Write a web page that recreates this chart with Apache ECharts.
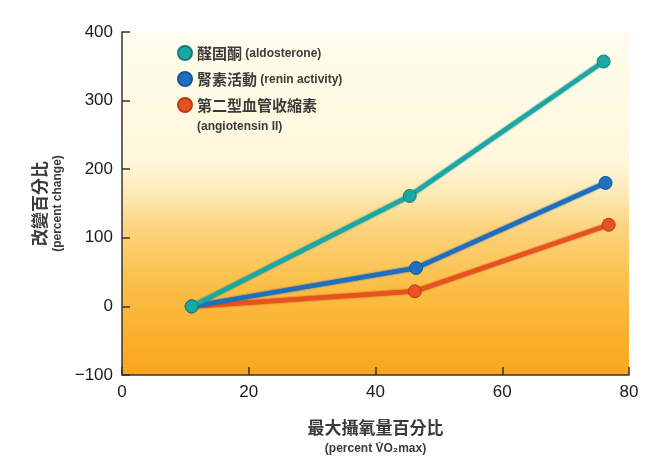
<!DOCTYPE html>
<html><head><meta charset="utf-8">
<script src="https://cdn.jsdelivr.net/npm/echarts@6/dist/echarts.min.js"></script>
<style>html,body{margin:0;padding:0;background:#fff}#c{width:661px;height:472px}</style>
</head><body><div id="c"></div>
<script>
const seriesNames = ['醛固酮', '腎素活動', '第二型血管收縮素'];
const seriesEn = ['(aldosterone)', '(renin activity)', '(angiotensin II)'];
const aldoX = [11, 45.4, 76.0];
const aldoY = [0, 161, 357];
const reninX = [11, 46.4, 76.3];
const reninY = [0, 56, 180];
const angioX = [11, 46.2, 76.8];
const angioY = [0, 22, 119];
const xTicks = [0, 20, 40, 60, 80];
const yTicks = [-100, 0, 100, 200, 300, 400];

const colors = ['#1aa8a5', '#1f6fc0', '#e8521f'];
const borders = ['#137e7b', '#17549a', '#b83c14'];
const zh = '"Noto Sans CJK TC", "Noto Sans CJK SC", sans-serif';
const en = '"Liberation Sans", Arial, sans-serif';

function pairs(xs, ys){ return xs.map((x,i)=>[x, ys[i]]); }
const dataSets = [pairs(aldoX, aldoY), pairs(reninX, reninY), pairs(angioX, angioY)];

const chart = echarts.init(document.getElementById('c'));
const richLegend = {
  zh: {fontFamily: zh, fontSize: 15, fontWeight: 'bold', color: '#3a3a3a'},
  en: {fontFamily: en, fontSize: 12, fontWeight: 'bold', color: '#3a3a3a', padding:[1,0,0,0]}
};
chart.setOption({
  animation: false,
  grid: {left: 122, right: 32, top: 32, bottom: 97, show: true, borderWidth: 0,
    backgroundColor: new echarts.graphic.LinearGradient(0,0,0,1,[
      {offset:0, color:'#fffdee'},
      {offset:0.38, color:'#fff7db'},
      {offset:0.47, color:'#fde9b4'},
      {offset:0.58, color:'#fcd27a'},
      {offset:0.75, color:'#fbbd45'},
      {offset:1, color:'#f9a51c'}
    ])},
  legend: [{
    orient: 'vertical', left: 172, top: 39, itemWidth: 14, itemHeight: 14, itemGap: 8,
    icon: 'circle',
    data: [seriesNames[0], seriesNames[1]],
    formatter: function(n){ const i = seriesNames.indexOf(n); return '{zh|' + n + '} {en|' + seriesEn[i] + '}'; },
    textStyle: {rich: richLegend, lineHeight: 18}
  },{
    orient: 'vertical', left: 172, top: 72, itemWidth: 14, itemHeight: 14,
    icon: 'circle',
    data: [seriesNames[2]],
    formatter: function(n){ return '{blank|}\n{zh|' + n + '}\n{en|' + seriesEn[2] + '}'; },
    textStyle: {rich: {zh: {fontFamily: zh, fontSize: 15, fontWeight: 'bold', color: '#3a3a3a', lineHeight: 22},
                       en: {fontFamily: en, fontSize: 12, fontWeight: 'bold', color: '#3a3a3a', lineHeight: 22},
                       blank: {fontSize: 12, lineHeight: 22}}}
  }],
  xAxis: {
    type: 'value', min: xTicks[0], max: xTicks[xTicks.length-1], interval: 20,
    axisLine: {show: true, onZero: false, lineStyle: {color: '#333', width: 1.5}},
    axisTick: {show: true, inside: true, length: 8, lineStyle: {color: '#333', width: 1.5}},
    splitLine: {show: false},
    axisLabel: {fontFamily: en, fontSize: 17, color: '#1a1a1a', margin: 9},
    name: '{zh|最大攝氧量百分比}\n{en|(percent V̇O₂max)}',
    nameLocation: 'middle', nameGap: 42,
    nameTextStyle: {rich: {zh: {fontFamily: zh, fontSize: 17, fontWeight: 'bold', color: '#3a3a3a', lineHeight: 22},
                           en: {fontFamily: en, fontSize: 12, fontWeight: 'bold', color: '#3a3a3a', lineHeight: 20}}}
  },
  yAxis: {
    type: 'value', min: yTicks[0], max: yTicks[yTicks.length-1], interval: 100,
    axisLine: {show: true, lineStyle: {color: '#333', width: 1.5}},
    axisTick: {show: true, inside: true, length: 8, lineStyle: {color: '#333', width: 1.5}},
    splitLine: {show: false},
    axisLabel: {fontFamily: en, fontSize: 17, color: '#1a1a1a', margin: 9,
      formatter: function(v){ return v < 0 ? '\u2212' + Math.abs(v) : String(v); }},
    name: '{zh|改變百分比}\n{en|(percent change)}',
    nameLocation: 'middle', nameRotate: 90, nameGap: 56,
    nameTextStyle: {rich: {zh: {fontFamily: zh, fontSize: 17, fontWeight: 'bold', color: '#3a3a3a', lineHeight: 20},
                           en: {fontFamily: en, fontSize: 12, fontWeight: 'bold', color: '#3a3a3a', lineHeight: 16}}}
  },
  series: dataSets.map((d, i) => ({
    name: seriesNames[i], type: 'line', data: d, z: 10 - i,
    symbol: 'circle', symbolSize: 13, showSymbol: true,
    lineStyle: {color: colors[i], width: 4.5, shadowColor: borders[i], shadowBlur: 2},
    itemStyle: {color: colors[i], borderColor: borders[i], borderWidth: 1}
  }))
});
</script></body></html>
